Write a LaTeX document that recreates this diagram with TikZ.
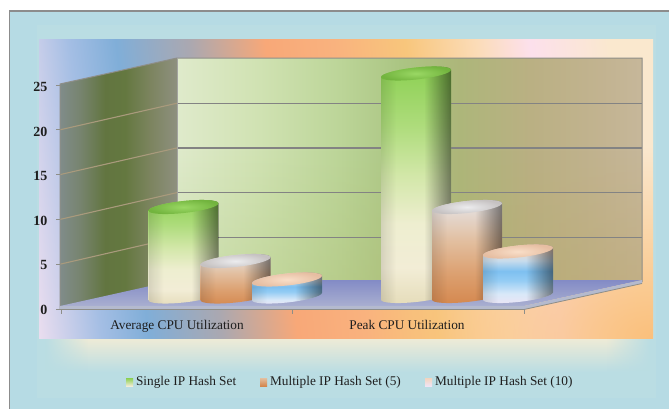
\documentclass[tikz,border=0pt]{standalone}
\usepackage{fontspec}
\setmainfont{Liberation Serif}
\usetikzlibrary{fadings}

% page and frame
\definecolor{bgblue}{HTML}{B6DBE4}
\definecolor{halo}{HTML}{BADDE3}
\definecolor{framegray}{HTML}{8C8C8C}
\definecolor{glowc}{HTML}{EFEBD6}
\definecolor{txt}{HTML}{1E1E1E}
% plot area rainbow
\definecolor{pb0}{HTML}{F0E0F0}
\definecolor{pb1}{HTML}{A4BEE4}
\definecolor{pb2}{HTML}{80AED8}
\definecolor{pb3}{HTML}{ABA8B0}
\definecolor{pb4}{HTML}{F8A878}
\definecolor{pb5}{HTML}{F9B27E}
\definecolor{pb6}{HTML}{F8C67C}
\definecolor{pb7}{HTML}{FBDCB8}
\definecolor{pb8}{HTML}{FCE0EC}
\definecolor{pb9}{HTML}{FAE8CE}
\definecolor{pbcorner}{HTML}{FAC07C}
% walls and floor
\definecolor{bw0}{HTML}{DFEACB}
\definecolor{bw1}{HTML}{D0E2B2}
\definecolor{bw2}{HTML}{BCD598}
\definecolor{bw3}{HTML}{ABC583}
\definecolor{bw4}{HTML}{ADB67A}
\definecolor{bw5}{HTML}{BAB083}
\definecolor{bw6}{HTML}{C2B390}
\definecolor{bw7}{HTML}{C6B79A}
\definecolor{bwlowleft}{HTML}{A6C878}
\definecolor{bwlowright}{HTML}{B89E58}
\definecolor{lw0}{HTML}{808C8A}
\definecolor{lw1}{HTML}{77846F}
\definecolor{lw2}{HTML}{627540}
\definecolor{lw3}{HTML}{647840}
\definecolor{lw4}{HTML}{7C845F}
\definecolor{lw5}{HTML}{8E907F}
\definecolor{floorback}{HTML}{838BC6}
\definecolor{floorfront}{HTML}{A9AFD0}
\definecolor{flooredge}{HTML}{B4BACE}
\definecolor{gridgray}{HTML}{838383}
\definecolor{gridtan}{HTML}{A99A7C}
\definecolor{edgegray}{HTML}{8E8E88}
% series
\definecolor{gb0}{HTML}{E4DBB8}
\definecolor{gb1}{HTML}{F2EDD6}
\definecolor{gb2}{HTML}{EEEED0}
\definecolor{gb3}{HTML}{D2E7A8}
\definecolor{gb4}{HTML}{AEDC7C}
\definecolor{gb5}{HTML}{8ACF50}
\definecolor{ob0}{HTML}{D4864C}
\definecolor{ob1}{HTML}{DCA070}
\definecolor{ob2}{HTML}{E2BFA0}
\definecolor{ob3}{HTML}{E4DAD4}
\definecolor{ob4}{HTML}{E2E2E4}
\definecolor{sb0}{HTML}{F0E4F4}
\definecolor{sb1}{HTML}{D8E8F8}
\definecolor{sb2}{HTML}{94CCF4}
\definecolor{sb3}{HTML}{7EC0F0}
\definecolor{sb4}{HTML}{C8DCEC}
\definecolor{sb5}{HTML}{F0D8C8}
\definecolor{sb6}{HTML}{F2D4BE}
\definecolor{gtopin}{HTML}{9AD864}
\definecolor{gtopout}{HTML}{72B43E}
\definecolor{otopin}{HTML}{ECECEE}
\definecolor{otopout}{HTML}{C6C2C2}
\definecolor{stopin}{HTML}{F9DEC8}
\definecolor{stopout}{HTML}{E6BEA2}

\pgfdeclarehorizontalshading{plotbg}{100bp}{color(0bp)=(pb0); color(22bp)=(pb0);
  color(27.8bp)=(pb1); color(31.8bp)=(pb2); color(38.1bp)=(pb3); color(44.5bp)=(pb4);
  color(50.3bp)=(pb5); color(56.4bp)=(pb6); color(62.5bp)=(pb7); color(67bp)=(pb8);
  color(73.9bp)=(pb9); color(100bp)=(pb9)}
\pgfdeclarehorizontalshading{backwall}{100bp}{color(0bp)=(bw0); color(25bp)=(bw0);
  color(33.9bp)=(bw1); color(42.5bp)=(bw2); color(49bp)=(bw3); color(55.4bp)=(bw4);
  color(63bp)=(bw5); color(70.5bp)=(bw6); color(75bp)=(bw7); color(100bp)=(bw7)}
\pgfdeclarehorizontalshading{sidewall}{100bp}{color(0bp)=(lw0); color(25bp)=(lw0);
  color(33.5bp)=(lw1); color(44.2bp)=(lw2); color(52.8bp)=(lw3); color(63.5bp)=(lw4);
  color(75bp)=(lw5); color(100bp)=(lw5)}
\pgfdeclareverticalshading{greenbody}{100bp}{color(0bp)=(gb0); color(25bp)=(gb0);
  color(33bp)=(gb1); color(42bp)=(gb2); color(52bp)=(gb3); color(62bp)=(gb4);
  color(75bp)=(gb5); color(100bp)=(gb5)}
\pgfdeclareverticalshading{orangebody}{100bp}{color(0bp)=(ob0); color(25bp)=(ob0);
  color(40bp)=(ob1); color(55bp)=(ob2); color(68bp)=(ob3); color(75bp)=(ob4);
  color(100bp)=(ob4)}
\pgfdeclareverticalshading{bluebody}{100bp}{color(0bp)=(sb0); color(25bp)=(sb0);
  color(35bp)=(sb1); color(45bp)=(sb2); color(52bp)=(sb3); color(60bp)=(sb4);
  color(68bp)=(sb5); color(75bp)=(sb6); color(100bp)=(sb6)}

\tikzfading[name=spot, inner color=transparent!0, outer color=transparent!100]

% one upright cylinder: x centre, top centre y, bottom centre y, body shading, lid colours
\newcommand\barcyl[6]{%
  \begin{scope}[shift={(#1,0)}, yslant=0.105]
    \begin{scope}
      \clip (-35,#2) -- (-35,#3)
        arc[start angle=180, end angle=360, x radius=35pt, y radius=6pt]
        -- (35,#2)
        arc[start angle=0, end angle=180, x radius=35pt, y radius=6pt] -- cycle;
      \shade[shading=#4] (-36,#2-7) rectangle (36,#3+7);
      \fill[black, opacity=.12, path fading=east] (-36,#2-9) rectangle (-20,#3+9);
      \fill[black, opacity=.5, path fading=west] (8,#2-9) rectangle (36,#3+9);
    \end{scope}
    \shade[inner color=#5, outer color=#6] (0,#2) ellipse[x radius=35pt, y radius=6pt];
  \end{scope}}

\begin{document}
\begin{tikzpicture}[x=1pt, y=-1pt,
  lbl/.style={font=\fontsize{13.3}{15}\selectfont, text=txt, inner sep=0pt},
  num/.style={font=\fontsize{14}{16}\selectfont\bfseries, text=txt, inner sep=0pt, anchor=base east},
  gridback/.style={draw=gridgray, line width=1.4pt},
  gridside/.style={draw=gridtan, line width=1.1pt},
  tickmark/.style={draw=edgegray, line width=0.9pt},
  key/.style={minimum width=7pt, minimum height=8pt, inner sep=0pt, anchor=west}]
\useasboundingbox (0,0) rectangle (669,408);
\fill[white] (0,0) rectangle (669,408);

% chart frame
\fill[bgblue] (9.5,11) rectangle (680,420);
\draw[framegray, line width=1.5pt] (9.5,11) rectangle (680,420);
\fill[halo] (37,25) rectangle (656,398);

% soft glow under the plot area
\shade[top color=glowc, bottom color=halo] (88,338) rectangle (607,372);
\shade[top color=glowc, bottom color=halo, path fading=west] (45,338) rectangle (88,372);
\shade[top color=glowc, bottom color=halo, path fading=east] (607,338) rectangle (650,372);

% plot area
\shade[shading=plotbg, shading angle=6.3] (39,39) rectangle (653,338);
\begin{scope}
  \clip (39,39) rectangle (653,338);
  \fill[pbcorner, path fading=spot] (653,338) ellipse[x radius=280pt, y radius=190pt];
\end{scope}

% side wall
\shade[shading=sidewall] (60,84) -- (177,58) -- (177,282) -- (60,309) -- cycle;
\foreach \v in {5,10,15,20}
  \draw[gridside] (60,{309-8.96*\v}) -- (177,{282-8.94*\v});
% back wall
\shade[shading=backwall] (177,58) rectangle (642,282);
\shade[left color=bwlowleft, right color=bwlowright, opacity=.3, path fading=north]
  (177,150) rectangle (642,282);
\foreach \v in {5,10,15,20}
  \draw[gridback] (177,{282-8.94*\v}) -- (642,{282-8.94*\v});
\draw[edgegray, line width=1pt] (60,309) -- (60,84) -- (177,58) -- (642,58) -- (642,282);
\draw[edgegray!80, line width=0.6pt] (177,58) -- (177,282);

% value axis ticks
\foreach \v in {0,5,10,15,20,25}
  \draw[tickmark] (56,{309-8.96*\v}) -- (60,{309-8.96*\v});

% floor
\shade[top color=floorback, bottom color=floorfront] (60,306) -- (177,280) -- (642,280) -- (524,306) -- cycle;
\fill[flooredge] (60,306) -- (524,306) -- (524,309.5) -- (60,309.5) -- cycle;
\fill[flooredge] (524,306) -- (642,280) -- (642,283.5) -- (524,309.5) -- cycle;
\draw[edgegray, line width=0.8pt] (60,309.5) -- (524,309.5) -- (642,283.5);
\foreach \x in {61,292,524}
  \draw[tickmark] (\x,309.5) -- (\x,313.5);

% cylinders
\barcyl{183.5}{207}{296.5}{greenbody}{gtopin}{gtopout}
\barcyl{235.5}{261}{296.5}{orangebody}{otopin}{otopout}
\barcyl{287}{279.5}{296.5}{bluebody}{stopin}{stopout}
\barcyl{416}{73.5}{296}{greenbody}{gtopin}{gtopout}
\barcyl{467}{207}{296}{orangebody}{otopin}{otopout}
\barcyl{518}{251.5}{296}{bluebody}{stopin}{stopout}

% value axis labels
\node[num] (n0) at (47.5,314) {0};
\node[num] (n5) at (47.5,269.5) {5};
\node[num] (n10) at (47.5,225) {10};
\node[num] (n15) at (47.5,180.5) {15};
\node[num] (n20) at (47.5,136) {20};
\node[num] (n25) at (47.5,91.5) {25};

% category labels
\node[lbl, anchor=base] (cavg) at (177,329) {Average CPU Utilization};
\node[lbl, anchor=base] (cpeak) at (407,329) {Peak CPU Utilization};

% legend
\node[key, top color=gb5, bottom color=gb1] (k1) at (126,382) {};
\node[lbl, anchor=west, xshift=2.5pt] (t1) at (k1.east) {Single IP Hash Set};
\node[key, top color=ob2, bottom color=ob0] (k2) at (260,382) {};
\node[lbl, anchor=west, xshift=2.5pt] (t2) at (k2.east) {Multiple IP Hash Set (5)};
\node[key, top color=sb6, middle color=sb2, bottom color=sb0] (k3) at (425,382) {};
\node[lbl, anchor=west, xshift=2.5pt] (t3) at (k3.east) {Multiple IP Hash Set (10)};
\end{tikzpicture}
\end{document}
